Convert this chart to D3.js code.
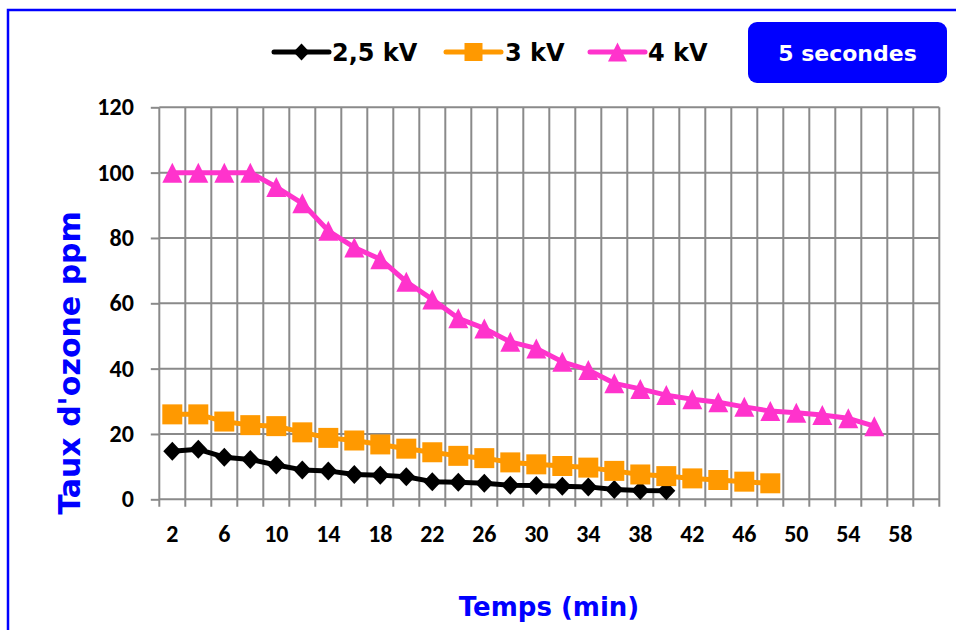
<!DOCTYPE html>
<html>
<head>
<meta charset="utf-8">
<script src="https://cdn.jsdelivr.net/npm/d3@7"></script>
<style>
  html, body { margin: 0; padding: 0; background: #fff; }
  svg { display: block; }
</style>
</head>
<body>
<svg id="chart" width="956" height="630"></svg>
<script>
// Time categories (min), every 2 minutes
const times = d3.range(2, 61, 2);
// Labelled categories on the time axis
const timeLabels = [2, 6, 10, 14, 18, 22, 26, 30, 34, 38, 42, 46, 50, 54, 58];
const yTicks = [0, 20, 40, 60, 80, 100, 120];

// Ozone concentration (ppm) per voltage
const kv25 = [14.7, 15.3, 12.9, 12.2, 10.5, 9.0, 8.7, 7.6, 7.4, 6.9, 5.4, 5.2, 4.9, 4.3,
              4.2, 4.0, 3.8, 3.0, 2.7, 2.6];
const kv3 = [26.0, 26.0, 23.8, 22.7, 22.4, 20.5, 18.8, 18.0, 16.8, 15.5, 14.4, 13.3, 12.6,
             11.3, 10.7, 10.2, 9.7, 8.7, 7.6, 7.1, 6.4, 5.9, 5.4, 4.9];
const kv4 = [100, 100, 100, 100, 95.6, 90.6, 82.2, 77.1, 73.5, 66.6, 61.2, 55.4, 52.3, 48.2,
             46.2, 42.1, 39.6, 35.5, 33.8, 31.9, 30.6, 29.7, 28.3, 27.0, 26.5, 25.8, 24.8, 22.4];

const seriesNames = ["2,5 kV", "3 kV", "4 kV"];
const seriesData = [kv25, kv3, kv4];
const seriesColors = ["#000000", "#ff9900", "#ff33cc"];
const seriesSymbols = ["diamond", "square", "triangle"];

const svg = d3.select("#chart");
const comic = "'Comic Sans MS', 'DejaVu Sans', sans-serif";
const calib = "Carlito, Lato, 'Open Sans', sans-serif";
const gridColor = "#8a8a8a";

const plot = { left: 159.3, right: 939.3, top: 107.3, bottom: 499.3 };

const x = d3.scaleBand().domain(times).range([plot.left, plot.right]).padding(0);
const y = d3.scaleLinear().domain([0, 120]).range([plot.bottom, plot.top]);
const cx = t => x(t) + x.bandwidth() / 2;

// Outer frame
svg.append("rect")
  .attr("x", 8).attr("y", 10).attr("width", 980).attr("height", 660)
  .attr("fill", "none").attr("stroke", "#0000ff").attr("stroke-width", 2.5);

// Grid: vertical lines on category boundaries (with tick marks below)
const boundaries = times.map(t => x(t)).concat([plot.right]);
svg.append("g").selectAll("line").data(boundaries).join("line")
  .attr("x1", d => d).attr("x2", d => d)
  .attr("y1", plot.top).attr("y2", plot.bottom + 7.5)
  .attr("stroke", gridColor).attr("stroke-width", 2);

// Grid: horizontal lines
svg.append("g").selectAll("line").data(yTicks).join("line")
  .attr("x1", plot.left).attr("x2", plot.right)
  .attr("y1", d => y(d)).attr("y2", d => y(d))
  .attr("stroke", gridColor).attr("stroke-width", 2);

// Y axis
const yAxis = svg.append("g")
  .attr("transform", `translate(${plot.left},0)`)
  .call(d3.axisLeft(y).tickValues(yTicks).tickSize(8.5).tickPadding(17));
yAxis.select(".domain").remove();
yAxis.selectAll("line").attr("stroke", gridColor).attr("stroke-width", 2);
yAxis.selectAll("text")
  .attr("font-family", calib).attr("font-weight", "bold")
  .attr("font-size", 24).attr("fill", "#000");

// X axis labels
const xAxis = svg.append("g")
  .attr("transform", `translate(0,${plot.bottom})`)
  .call(d3.axisBottom(x).tickValues(timeLabels).tickSize(0).tickPadding(26));
xAxis.select(".domain").remove();
xAxis.selectAll("text")
  .attr("font-family", calib).attr("font-weight", "bold")
  .attr("font-size", 24).attr("fill", "#000");

// Marker shapes
function markerPath(kind, size) {
  const h = size / 2;
  if (kind === "diamond") return `M0,${-h}L${h * 0.95},0L0,${h}L${-h * 0.95},0Z`;
  if (kind === "square") return `M${-h},${-h}H${h}V${h}H${-h}Z`;
  return `M0,${-h}L${h},${h}L${-h},${h}Z`;
}
const markerSize = [19, 20, 20];

// Series lines and markers
const line = d3.line().x(d => cx(d.t)).y(d => y(d.v));
seriesData.forEach((vals, i) => {
  const pts = vals.map((v, k) => ({ t: times[k], v }));
  const g = svg.append("g");
  g.append("path").datum(pts)
    .attr("d", line)
    .attr("fill", "none")
    .attr("stroke", seriesColors[i])
    .attr("stroke-width", 5)
    .attr("stroke-linejoin", "round");
  g.selectAll("path.m").data(pts).join("path")
    .attr("class", "m")
    .attr("transform", d => `translate(${cx(d.t)},${y(d.v)})`)
    .attr("d", markerPath(seriesSymbols[i], markerSize[i]))
    .attr("fill", seriesColors[i]);
});

// Legend
const legendItems = [
  { lx: 274, tx: 332, size: 17 },
  { lx: 446, tx: 505, size: 18 },
  { lx: 590, tx: 648, size: 19 }
];
const legendY = 52;
legendItems.forEach((it, i) => {
  const g = svg.append("g");
  g.append("line")
    .attr("x1", it.lx).attr("x2", it.lx + 55)
    .attr("y1", legendY).attr("y2", legendY)
    .attr("stroke", seriesColors[i]).attr("stroke-width", 5)
    .attr("stroke-linecap", "round");
  g.append("path")
    .attr("transform", `translate(${it.lx + 27.5},${legendY})`)
    .attr("d", markerPath(seriesSymbols[i], it.size))
    .attr("fill", seriesColors[i]);
  g.append("text")
    .attr("x", it.tx).attr("y", legendY + 9)
    .attr("font-family", comic).attr("font-weight", "bold")
    .attr("font-size", 24).attr("fill", "#000")
    .text(seriesNames[i]);
});

// Duration badge
svg.append("rect")
  .attr("x", 748).attr("y", 22).attr("width", 199).attr("height", 61)
  .attr("rx", 9).attr("fill", "#0000ff");
svg.append("text")
  .attr("x", 847.5).attr("y", 61)
  .attr("text-anchor", "middle")
  .attr("font-family", comic).attr("font-weight", "bold")
  .attr("font-size", 22).attr("fill", "#fff")
  .text("5 secondes");

// Axis titles
svg.append("text")
  .attr("transform", "translate(80,363) rotate(-90)")
  .attr("text-anchor", "middle")
  .attr("font-family", comic).attr("font-weight", "bold")
  .attr("font-size", 30).attr("fill", "#0000ff")
  .text("Taux d'ozone ppm");
svg.append("text")
  .attr("x", 549).attr("y", 616)
  .attr("text-anchor", "middle")
  .attr("font-family", comic).attr("font-weight", "bold")
  .attr("font-size", 26).attr("fill", "#0000ff")
  .text("Temps (min)");
</script>
</body>
</html>
